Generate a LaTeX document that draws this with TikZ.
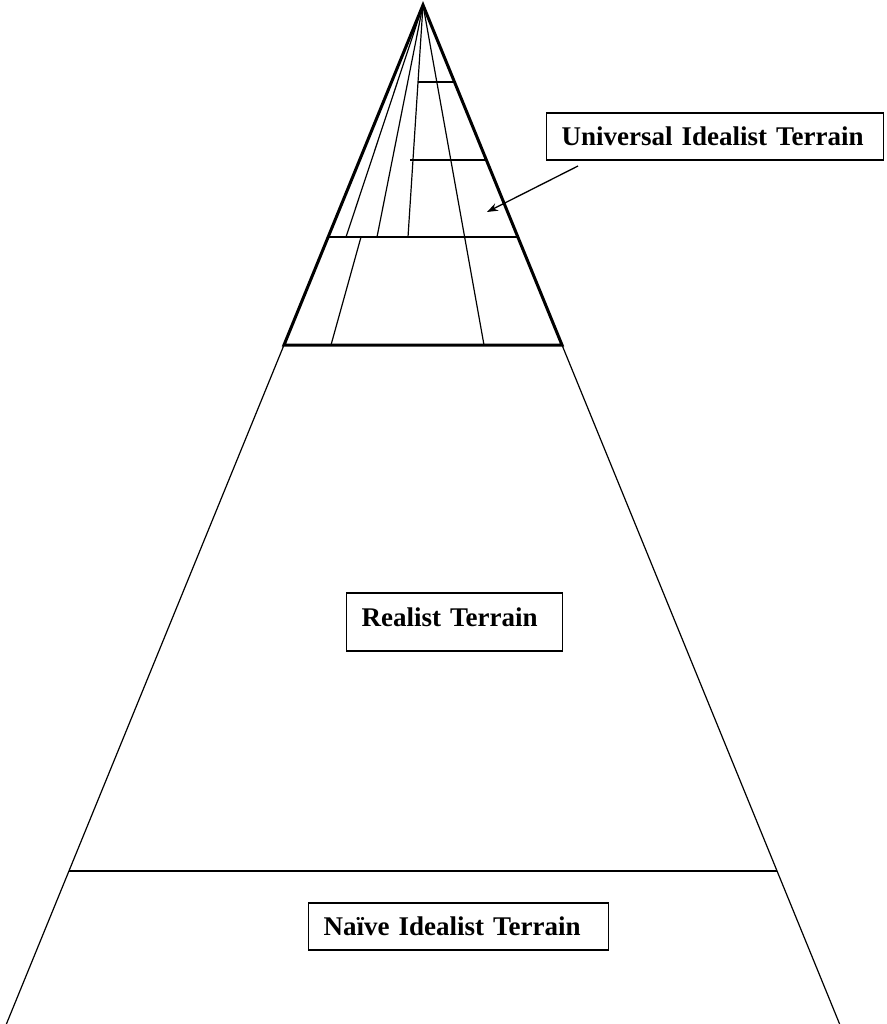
\documentclass[tikz,border=0pt]{standalone}
\usepackage{fontspec}
\setmainfont{Liberation Serif}
\usetikzlibrary{arrows.meta}
\begin{document}
\begin{tikzpicture}[x=1pt,y=-1pt,
  thinline/.style={line width=1.2pt},
  thickline/.style={line width=3pt, line join=miter},
  terrain/.style={draw, line width=1.3pt, anchor=west, align=left,
    inner xsep=15pt, inner ysep=0pt, minimum height=47pt,
    font=\fontsize{27}{32}\selectfont\bfseries},
  pointer/.style={line width=1.3pt, -{Stealth[length=11pt,width=8pt]}}]
\useasboundingbox (0,0) rectangle (886,1024);

% apex and base of the upper pyramid
\coordinate (apex) at (423,5);
\coordinate (bl) at (284,345);
\coordinate (br) at (562,345);

% lower flanks continuing the pyramid
\coordinate (fl) at (6.4,1024);
\coordinate (fr) at (839.6,1024);
\draw[thinline] (bl) -- (fl);
\draw[thinline] (br) -- (fr);

% boundary of the naive idealist band
\coordinate (nl) at (68.9,871);
\coordinate (nr) at (777.1,871);
\draw[thinline] (nl) -- (nr);

% subdivisions of the upper pyramid
\coordinate (h1l) at (328.2,237);
\coordinate (h1r) at (517.8,237);
\coordinate (h2l) at (410,160);
\coordinate (h2r) at (486.4,160);
\coordinate (h3l) at (418,82);
\coordinate (h3r) at (454.5,82);
\draw[thinline] (h1l) -- (h1r);
\draw[thinline] (h2l) -- (h2r);
\draw[thinline] (h3l) -- (h3r);

\coordinate (r1) at (346,237);
\coordinate (r2) at (377,237);
\coordinate (r3) at (408,237);
\coordinate (r4) at (484,345);
\coordinate (s1) at (361,237);
\coordinate (s2) at (331,345);
\draw[thinline] (apex) -- (r1);
\draw[thinline] (apex) -- (r2);
\draw[thinline] (apex) -- (r3);
\draw[thinline] (apex) -- (r4);
\draw[thinline] (s1) -- (s2);

% heavy outline of the upper pyramid
\draw[thickline] (apex) -- (bl) -- (br) -- cycle;

% labels
\node[terrain, text width=307pt] (uni) at (546,136.5) {Universal Idealist Terrain};
\node[terrain, text width=186pt, minimum height=58pt, text depth=9pt] (real) at (346,622) {Realist Terrain};
\node[terrain, text width=270pt] (naive) at (308,926.5) {Naïve Idealist Terrain};

% pointer into the upper pyramid
\coordinate (pstart) at (578,166);
\coordinate (pend) at (487,212);
\draw[pointer] (pstart) -- (pend);
\end{tikzpicture}
\end{document}
